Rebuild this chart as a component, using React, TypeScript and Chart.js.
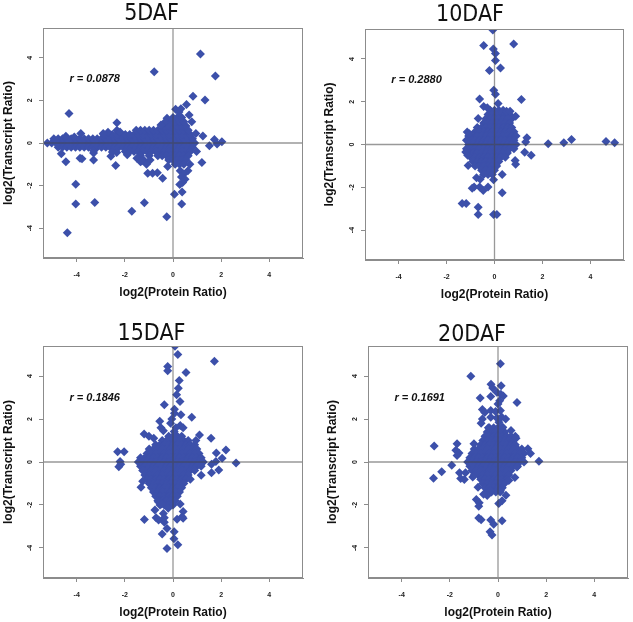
import { useEffect, useRef } from "react";
import { Chart, registerables } from "chart.js";

Chart.register(...registerables);

// ---------- data ----------
const AXIS_MIN = -5.4;
const AXIS_MAX = 5.4;
const TICK_VALUES = [-4, -2, 0, 2, 4];
const TITLES = ["5DAF", "10DAF", "15DAF", "20DAF"];
const R_LABELS = ["r = 0.0878", "r = 0.2880", "r = 0.1846", "r = 0.1691"];
const R_POS: [number, number] = [-3.25, 3.0];
const X_LABEL = "log2(Protein Ratio)";
const Y_LABEL = "log2(Transcript Ratio)";

type Pt = [number, number];
type Row = [number, number[]]; // [y, xs]

// 5DAF: dense band along y = 0 plus blob right of x = 0
const P1_ROWS: Row[] = [
  [0.0, [-5.22, -5.04, -4.86, -4.68, -4.5, -4.32, -4.14, -3.96, -3.78, -3.6, -3.42, -3.24, -3.06, -2.88, -2.7, -2.52, -2.34, -2.16, -1.98, -1.8, -1.62, -1.44, -1.26, -1.08, -0.9, -0.72, -0.54, -0.36, -0.18, 0, 0.18, 0.36, 0.54, 0.72, 0.9]],
  [0.2, [-4.95, -4.77, -4.59, -4.41, -4.23, -4.05, -3.87, -3.69, -3.51, -3.33, -3.15, -2.97, -2.79, -2.61, -2.43, -2.25, -2.07, -1.89, -1.71, -1.53, -1.35, -1.17, -0.99, -0.81, -0.63, -0.45, -0.27, -0.09, 0.09, 0.27, 0.45, 0.63, 0.81]],
  [-0.2, [-4.77, -4.59, -4.41, -4.23, -4.05, -3.87, -3.69, -3.51, -3.33, -3.15, -2.97, -2.79, -2.61, -2.43, -2.25, -2.07, -1.89, -1.71, -1.53, -1.35, -1.17, -0.99, -0.81, -0.63, -0.45, -0.27, -0.09, 0.09, 0.27, 0.45, 0.63, 0.81]],
  [0.4, [-2.88, -2.7, -2.52, -2.34, -2.16, -1.98, -1.8, -1.62, -1.44, -1.26, -1.08, -0.9, -0.72, -0.54, -0.36, -0.18, 0, 0.18, 0.36, 0.54, 0.72]],
  [-0.4, [-1.98, -1.8, -1.62, -1.44, -1.26, -1.08, -0.9, -0.72, -0.54, -0.36, -0.18, 0, 0.18, 0.36, 0.54, 0.72]],
  [0.6, [-1.53, -1.35, -1.17, -0.99, -0.81, -0.63, -0.45, -0.27, -0.09, 0.09, 0.27, 0.45, 0.63]],
  [-0.6, [-1.35, -0.99, -0.63, -0.45, -0.27, -0.09, 0.09, 0.27, 0.45, 0.63]],
  [0.8, [-0.36, -0.18, 0, 0.18, 0.36, 0.54]],
  [-0.8, [-0.18, 0, 0.18, 0.36, 0.54]],
  [1.0, [-0.09, 0.09, 0.27, 0.45]],
  [-1.0, [0.09, 0.27, 0.45]],
  [1.2, [0, 0.18, 0.36]],
];
const P1_OUT: Pt[] = [
  [1.14, 4.18], [-0.78, 3.35], [1.76, 3.15], [0.83, 2.19], [1.33, 2.02], [-4.32, 1.38], [0.56, 1.81],
  [0.33, 1.61], [0.11, 1.58], [0.25, 1.45], [-0.25, 1.16], [-0.22, 0.85], [0.67, 1.31], [-2.33, 0.95], [-2.33, 0.6],
  [0.78, 1.0], [1.24, 0.33], [1.72, 0.17], [2.03, 0.06], [1.83, -0.05], [1.51, -0.13], [1.2, -0.92],
  [-4.64, -0.5], [-4.45, -0.88], [-3.86, -0.72], [-3.78, -0.74], [-3.3, -0.8], [-3.3, -0.47], [-2.58, -0.62],
  [-2.38, -1.06], [-1.5, -0.72], [-1.35, -0.88], [-1.2, -0.82], [-1.05, -1.42], [-0.85, -1.42], [-0.65, -1.4],
  [-0.43, -1.66], [-0.22, -1.1], [0.3, -1.3], [0.45, -1.45], [0.62, -1.3], [0.35, -1.6], [0.5, -1.7],
  [0.4, -1.85], [0.28, -1.95], [-4.04, -1.94], [0.06, -2.41], [0.38, -2.3], [-4.04, -2.86], [-3.25, -2.79],
  [-1.19, -2.8], [0.36, -2.86], [-1.71, -3.21], [-0.26, -3.46], [-4.39, -4.21],
  [-4.45, 0.32], [-3.83, 0.45], [-4.1, 0.28], [-3.3, -0.36], [-2.2, 0.52], [-2.7, 0.5], [-2.9, 0.45],
  [-2.52, -0.42], [-2.34, -0.45], [-1.9, -0.55], [-1.3, -0.85], [-0.95, -0.8], [-1.1, -1.0], [-0.36, 0.95],
  [-0.5, 0.85], [0.95, 0.45], [0.98, -0.4], [0.7, -1.0],
];

// 10DAF
const P2_ROWS: Row[] = [
  [1.6, [-0.18, 0, 0.18, 0.36]],
  [1.4, [-0.27, -0.09, 0.09, 0.27, 0.45, 0.63]],
  [1.2, [-0.36, -0.18, 0, 0.18, 0.36, 0.54, 0.72]],
  [1.0, [-0.45, -0.27, -0.09, 0.09, 0.27, 0.45, 0.63]],
  [0.8, [-0.72, -0.54, -0.36, -0.18, 0, 0.18, 0.36, 0.54, 0.72]],
  [0.6, [-0.81, -0.63, -0.45, -0.27, -0.09, 0.09, 0.27, 0.45, 0.63, 0.81]],
  [0.4, [-1.08, -0.9, -0.72, -0.54, -0.36, -0.18, 0, 0.18, 0.36, 0.54, 0.72, 0.9]],
  [0.2, [-1.17, -0.99, -0.81, -0.63, -0.45, -0.27, -0.09, 0.09, 0.27, 0.45, 0.63, 0.81]],
  [0.0, [-1.08, -0.9, -0.72, -0.54, -0.36, -0.18, 0, 0.18, 0.36, 0.54, 0.72, 0.9]],
  [-0.2, [-1.17, -0.99, -0.81, -0.63, -0.45, -0.27, -0.09, 0.09, 0.27, 0.45, 0.63, 0.81]],
  [-0.4, [-1.08, -0.9, -0.72, -0.54, -0.36, -0.18, 0, 0.18, 0.36, 0.54]],
  [-0.6, [-0.99, -0.81, -0.63, -0.45, -0.27, -0.09, 0.09, 0.27, 0.45]],
  [-0.8, [-0.9, -0.72, -0.54, -0.36, -0.18, 0, 0.18]],
  [-1.0, [-0.81, -0.63, -0.45, -0.27, -0.09, 0.09]],
  [-1.2, [-0.54, -0.36, -0.18, 0]],
  [-1.4, [-0.45, -0.27, -0.09]],
];
const P2_OUT: Pt[] = [
  [-0.07, 5.35], [-0.45, 4.63], [0.8, 4.7], [-0.05, 4.47], [0.04, 4.25], [0.04, 3.93], [-0.21, 3.46],
  [0.25, 3.58], [-0.03, 2.54], [0.04, 2.35], [-0.62, 2.13], [1.12, 2.1], [0.15, 1.92], [-0.45, 1.78],
  [-0.3, 1.72], [0.88, 1.32], [0.5, 1.55], [0.65, 1.55], [-0.68, 1.22], [-1.14, 0.58], [-1.05, 0.5],
  [1.35, 0.31], [1.3, 0.12], [2.24, 0.03], [2.89, 0.08], [3.21, 0.23], [4.65, 0.14], [5.01, 0.08],
  [1.26, -0.36], [1.53, -0.5], [0.86, -0.75], [0.88, -0.92], [-1.2, -0.35], [-1.12, -0.5], [-1.1, -0.98],
  [-0.75, -1.55], [-0.6, -1.62], [0.32, -1.4], [-0.04, -1.65], [-0.85, -1.99], [-0.93, -2.05],
  [-0.62, -1.99], [-0.47, -2.15], [-0.27, -1.99], [0.32, -2.26], [-1.35, -2.76], [-1.18, -2.76],
  [-0.68, -2.93], [-0.68, -3.27], [-0.04, -3.27], [0.1, -3.27],
];

// 15DAF
const P3_ROWS: Row[] = [
  [1.2, [-0.18, 0, 0.18, 0.36]],
  [1.0, [-0.45, -0.27, -0.09, 0.09, 0.27, 0.45, 0.63]],
  [0.8, [-0.72, -0.54, -0.36, -0.18, 0, 0.18, 0.36, 0.54, 0.72, 0.9]],
  [0.6, [-0.99, -0.81, -0.63, -0.45, -0.27, -0.09, 0.09, 0.27, 0.45, 0.63, 0.81, 0.99]],
  [0.4, [-1.08, -0.9, -0.72, -0.54, -0.36, -0.18, 0, 0.18, 0.36, 0.54, 0.72, 0.9, 1.08]],
  [0.2, [-1.35, -1.17, -0.99, -0.81, -0.63, -0.45, -0.27, -0.09, 0.09, 0.27, 0.45, 0.63, 0.81, 0.99, 1.17]],
  [0.0, [-1.44, -1.26, -1.08, -0.9, -0.72, -0.54, -0.36, -0.18, 0, 0.18, 0.36, 0.54, 0.72, 0.9, 1.08, 1.26]],
  [-0.2, [-1.35, -1.17, -0.99, -0.81, -0.63, -0.45, -0.27, -0.09, 0.09, 0.27, 0.45, 0.63, 0.81, 0.99, 1.17]],
  [-0.4, [-1.26, -1.08, -0.9, -0.72, -0.54, -0.36, -0.18, 0, 0.18, 0.36, 0.54, 0.72, 0.9]],
  [-0.6, [-1.17, -0.99, -0.81, -0.63, -0.45, -0.27, -0.09, 0.09, 0.27, 0.45, 0.63]],
  [-0.8, [-1.08, -0.9, -0.72, -0.54, -0.36, -0.18, 0, 0.18, 0.36, 0.54, 0.72]],
  [-1.0, [-0.99, -0.81, -0.63, -0.45, -0.27, -0.09, 0.09, 0.27, 0.45]],
  [-1.2, [-0.9, -0.72, -0.54, -0.36, -0.18, 0, 0.18, 0.36]],
  [-1.4, [-0.81, -0.63, -0.45, -0.27, -0.09, 0.09, 0.27]],
  [-1.6, [-0.72, -0.54, -0.36, -0.18, 0, 0.18]],
  [-1.8, [-0.63, -0.45, -0.27, -0.09, 0.09]],
  [-2.0, [-0.54, -0.36, -0.18, 0]],
];
const P3_OUT: Pt[] = [
  [0.08, 5.39], [0.2, 5.0], [1.72, 4.69], [-0.22, 4.45], [-0.22, 4.25], [0.54, 4.17], [0.26, 3.79],
  [0.22, 3.43], [0.15, 3.13], [0.29, 2.82], [-0.36, 2.66], [0.06, 2.45], [0.06, 2.27], [0.33, 2.2],
  [0.78, 2.08], [-0.05, 2.0], [-0.1, 1.8], [0.3, 1.7], [0.42, 1.6], [-0.55, 1.9], [-0.5, 1.6],
  [-0.4, 1.45], [0.12, 1.6], [0.05, 1.42], [-1.2, 1.3], [-1.0, 1.2], [-0.8, 1.1], [1.1, 1.26],
  [0.95, 1.0], [1.58, 1.1], [-2.3, 0.48], [-2.03, 0.48], [-2.17, -0.1], [-2.25, -0.22], [-2.2, 0.02],
  [1.8, 0.42], [2.2, 0.56], [2.04, 0.17], [2.62, -0.05], [1.78, 0.02], [1.6, -0.1], [1.6, -0.5],
  [1.9, -0.37], [1.17, -0.62], [-1.26, -0.9], [-1.33, -1.18], [-0.6, -1.86], [-0.47, -1.95],
  [-0.75, -2.24], [-0.4, -2.4], [-0.2, -2.15], [0.3, -1.96], [0.42, -2.3], [0.38, -2.55], [-1.19, -2.68],
  [-0.7, -2.6], [-0.6, -2.7], [-0.36, -2.6], [-0.36, -2.8], [0.17, -2.67], [0.42, -2.62], [-0.25, -3.1],
  [-0.45, -3.35], [0.05, -3.25], [0.04, -3.57], [-0.25, -4.03], [0.2, -3.85],
];

// 20DAF
const P4_ROWS: Row[] = [
  [1.6, [-0.36, -0.18, 0, 0.18]],
  [1.4, [-0.45, -0.27, -0.09, 0.09, 0.27]],
  [1.2, [-0.54, -0.36, -0.18, 0, 0.18, 0.36, 0.54, 0.72]],
  [1.0, [-0.63, -0.45, -0.27, -0.09, 0.09, 0.27, 0.45, 0.63]],
  [0.8, [-0.72, -0.54, -0.36, -0.18, 0, 0.18, 0.36, 0.54, 0.72]],
  [0.6, [-0.99, -0.81, -0.63, -0.45, -0.27, -0.09, 0.09, 0.27, 0.45, 0.63, 0.81, 0.99]],
  [0.4, [-1.08, -0.9, -0.72, -0.54, -0.36, -0.18, 0, 0.18, 0.36, 0.54, 0.72, 0.9, 1.08]],
  [0.2, [-1.17, -0.99, -0.81, -0.63, -0.45, -0.27, -0.09, 0.09, 0.27, 0.45, 0.63, 0.81, 0.99]],
  [0.0, [-1.26, -1.08, -0.9, -0.72, -0.54, -0.36, -0.18, 0, 0.18, 0.36, 0.54, 0.72, 0.9, 1.08]],
  [-0.2, [-1.17, -0.99, -0.81, -0.63, -0.45, -0.27, -0.09, 0.09, 0.27, 0.45, 0.63, 0.81]],
  [-0.4, [-1.08, -0.9, -0.72, -0.54, -0.36, -0.18, 0, 0.18, 0.36, 0.54]],
  [-0.6, [-0.99, -0.81, -0.63, -0.45, -0.27, -0.09, 0.09, 0.27, 0.45]],
  [-0.8, [-0.72, -0.54, -0.36, -0.18, 0, 0.18, 0.36]],
  [-1.0, [-0.63, -0.45, -0.27, -0.09, 0.09, 0.27]],
  [-1.2, [-0.54, -0.36, -0.18, 0, 0.18]],
  [-1.4, [-0.45, -0.27, -0.09, 0.09]],
];
const P4_OUT: Pt[] = [
  [0.1, 4.57], [-1.13, 3.99], [-0.29, 3.62], [-0.22, 3.45], [0.13, 3.55], [-0.05, 3.25], [0.12, 3.15],
  [-0.3, 3.05], [0.22, 3.07], [-0.74, 2.98], [0.07, 2.85], [0.0, 2.7], [0.79, 2.77], [-0.65, 2.44],
  [-0.55, 2.3], [-0.3, 2.4], [-0.1, 2.35], [0.1, 2.4], [-0.3, 2.08], [-0.05, 2.05], [0.15, 2.1],
  [0.32, 2.0], [-0.65, 2.0], [-0.7, 1.8], [0.04, 1.85], [0.2, 1.62], [-0.4, 1.6], [0.54, 1.47],
  [0.75, 1.1], [-2.65, 0.75], [-1.7, 0.85], [-1.0, 0.85], [-1.75, 0.55], [-1.62, 0.42], [-1.7, 0.3],
  [1.24, 0.62], [1.35, 0.4], [1.7, 0.03], [-1.92, -0.15], [-2.34, -0.45], [-2.68, -0.76], [-1.6, -0.5],
  [-1.55, -0.77], [-1.4, -0.82], [-1.35, -0.5], [0.79, -0.23], [0.45, -0.86], [0.7, -0.72], [-1.05, -0.7],
  [-0.83, -1.17], [-0.3, -1.33], [-0.45, -1.56], [0.1, -1.33], [0.33, -1.55], [-0.6, -1.5], [0.17, -1.8],
  [-0.9, -1.75], [-0.78, -1.9], [0.03, -1.93], [-0.8, -2.06], [-0.8, -2.61], [-0.7, -2.69], [-0.3, -2.7],
  [0.17, -2.74], [-0.18, -2.9], [-0.33, -3.25], [-0.25, -3.4],
];

const PANEL_ROWS = [P1_ROWS, P2_ROWS, P3_ROWS, P4_ROWS];
const PANEL_OUT = [P1_OUT, P2_OUT, P3_OUT, P4_OUT];

// ---------- layout / style ----------
const LAYOUT = [
  { x: 0, y: 0, w: 316, h: 311, l: 43, r: 303, t: 28, b: 258, titleC: 14.3, yTitleX: 8.3, xTitleY: 292.7 },
  { x: 316, y: 0, w: 317, h: 311, l: 49, r: 308, t: 29, b: 260, titleC: 15.2, yTitleX: 13.3, xTitleY: 295 },
  { x: 0, y: 311, w: 316, h: 311, l: 43, r: 303, t: 35, b: 267, titleC: 23.3, yTitleX: 8.3, xTitleY: 301.7 },
  { x: 316, y: 311, w: 317, h: 311, l: 52, r: 312, t: 35, b: 267, titleC: 24.3, yTitleX: 16.7, xTitleY: 301.7 },
];
const POINT_COLOR = "#3c50aa";
const AXIS_GRAY = "#8c8c8c";
const SANS = '"Liberation Sans", Arial, Helvetica, sans-serif';
const NARROW = '"Liberation Sans Narrow", "Arial Narrow", "DejaVu Sans Condensed", sans-serif';
const TITLE_SIZE = 23;
const TICK_SIZE = 7;
const LABEL_SIZE = 12;
const TICK_LEN = 4;
const POINT_RADIUS = 4.5;

function toPoints(rows: Row[], extra: Pt[]) {
  const pts: { x: number; y: number }[] = [];
  for (const [y, xs] of rows) for (const x of xs) pts.push({ x, y });
  for (const [x, y] of extra) pts.push({ x, y });
  return pts;
}

const overlayPlugin = {
  id: "overlay",
  afterDatasetsDraw(chart: any, _args: any, opts: any) {
    const { ctx, chartArea: a, scales } = chart;
    const xs = scales.x;
    const ys = scales.y;
    ctx.save();
    ctx.beginPath();
    ctx.rect(a.left, a.top, a.right - a.left, a.bottom - a.top);
    ctx.clip();
    ctx.strokeStyle = "rgba(70,70,70,0.55)";
    ctx.lineWidth = 1.3;
    const x0 = xs.getPixelForValue(0);
    const y0 = ys.getPixelForValue(0);
    ctx.beginPath();
    ctx.moveTo(x0, a.top);
    ctx.lineTo(x0, a.bottom);
    ctx.moveTo(a.left, y0);
    ctx.lineTo(a.right, y0);
    ctx.stroke();
    ctx.restore();

    ctx.save();
    ctx.strokeStyle = AXIS_GRAY;
    ctx.lineWidth = 1;
    ctx.strokeRect(Math.round(a.left) + 0.5, Math.round(a.top) + 0.5, Math.round(a.right - a.left) - 1, Math.round(a.bottom - a.top) - 1);
    ctx.font = `italic bold 11px ${SANS}`;
    ctx.fillStyle = "#111";
    ctx.textAlign = "center";
    ctx.textBaseline = "middle";
    ctx.fillText(opts.label, xs.getPixelForValue(R_POS[0]), ys.getPixelForValue(R_POS[1]));
    ctx.restore();
  },
};

function makeTicks(scale: any) {
  scale.ticks = TICK_VALUES.map((v) => ({ value: v }));
}

function Panel({ idx }: { idx: number }) {
  const ref = useRef<HTMLCanvasElement>(null);
  const L = LAYOUT[idx];
  useEffect(() => {
    const titleTop = L.titleC - TITLE_SIZE / 2;
    const chart = new Chart(ref.current as HTMLCanvasElement, {
      type: "scatter",
      data: {
        datasets: [
          {
            data: toPoints(PANEL_ROWS[idx], PANEL_OUT[idx]),
            pointStyle: "rectRot",
            pointRadius: POINT_RADIUS,
            backgroundColor: POINT_COLOR,
            borderWidth: 0,
            clip: 0,
          } as any,
        ],
      },
      options: {
        animation: false,
        responsive: false,
        devicePixelRatio: 1,
        events: [],
        layout: { padding: { left: 0, top: 0, right: L.w - L.r, bottom: 0 } },
        plugins: {
          legend: { display: false },
          tooltip: { enabled: false },
          title: {
            display: true,
            text: TITLES[idx],
            color: "#111",
            font: { family: NARROW, size: TITLE_SIZE, weight: "normal", lineHeight: 1 },
            padding: { top: titleTop, bottom: L.t - titleTop - TITLE_SIZE },
          },
          overlay: { label: R_LABELS[idx] },
        } as any,
        scales: {
          x: {
            type: "linear",
            min: AXIS_MIN,
            max: AXIS_MAX,
            afterBuildTicks: makeTicks,
            afterFit: (s: any) => {
              s.height = L.h - L.b;
            },
            grid: { drawOnChartArea: false, drawTicks: true, tickLength: TICK_LEN, color: AXIS_GRAY },
            border: { display: true, color: AXIS_GRAY },
            ticks: {
              padding: 8.8,
              color: "#222",
              font: { family: SANS, size: TICK_SIZE, weight: "bold" },
              callback: (v: any) => String(v),
            },
            title: {
              display: true,
              text: X_LABEL,
              color: "#111",
              font: { family: SANS, size: LABEL_SIZE, weight: "bold", lineHeight: 1.2 },
              padding: { top: 0, bottom: L.h - L.xTitleY - (LABEL_SIZE * 1.2) / 2 },
            },
          },
          y: {
            type: "linear",
            min: AXIS_MIN,
            max: AXIS_MAX,
            afterBuildTicks: makeTicks,
            afterFit: (s: any) => {
              s.width = L.l;
            },
            grid: { drawOnChartArea: false, drawTicks: true, tickLength: TICK_LEN, color: AXIS_GRAY },
            border: { display: true, color: AXIS_GRAY },
            ticks: {
              minRotation: 90,
              maxRotation: 90,
              crossAlign: "center",
              padding: 5.9,
              color: "#222",
              font: { family: SANS, size: TICK_SIZE, weight: "bold" },
              callback: (v: any) => String(v),
            },
            title: {
              display: true,
              text: Y_LABEL,
              color: "#111",
              font: { family: SANS, size: LABEL_SIZE, weight: "bold", lineHeight: 1.2 },
              padding: { top: L.yTitleX - (LABEL_SIZE * 1.2) / 2, bottom: 0 },
            },
          },
        },
      },
      plugins: [overlayPlugin as any],
    });
    return () => chart.destroy();
  }, [idx]);
  return (
    <div style={{ position: "absolute", left: L.x, top: L.y, width: L.w, height: L.h }}>
      <canvas ref={ref} width={L.w} height={L.h} style={{ width: L.w, height: L.h, display: "block" }} />
    </div>
  );
}

export default function App() {
  return (
    <div style={{ position: "absolute", left: 0, top: 0, width: 633, height: 622, background: "#fff" }}>
      {[0, 1, 2, 3].map((i) => (
        <Panel key={i} idx={i} />
      ))}
    </div>
  );
}
